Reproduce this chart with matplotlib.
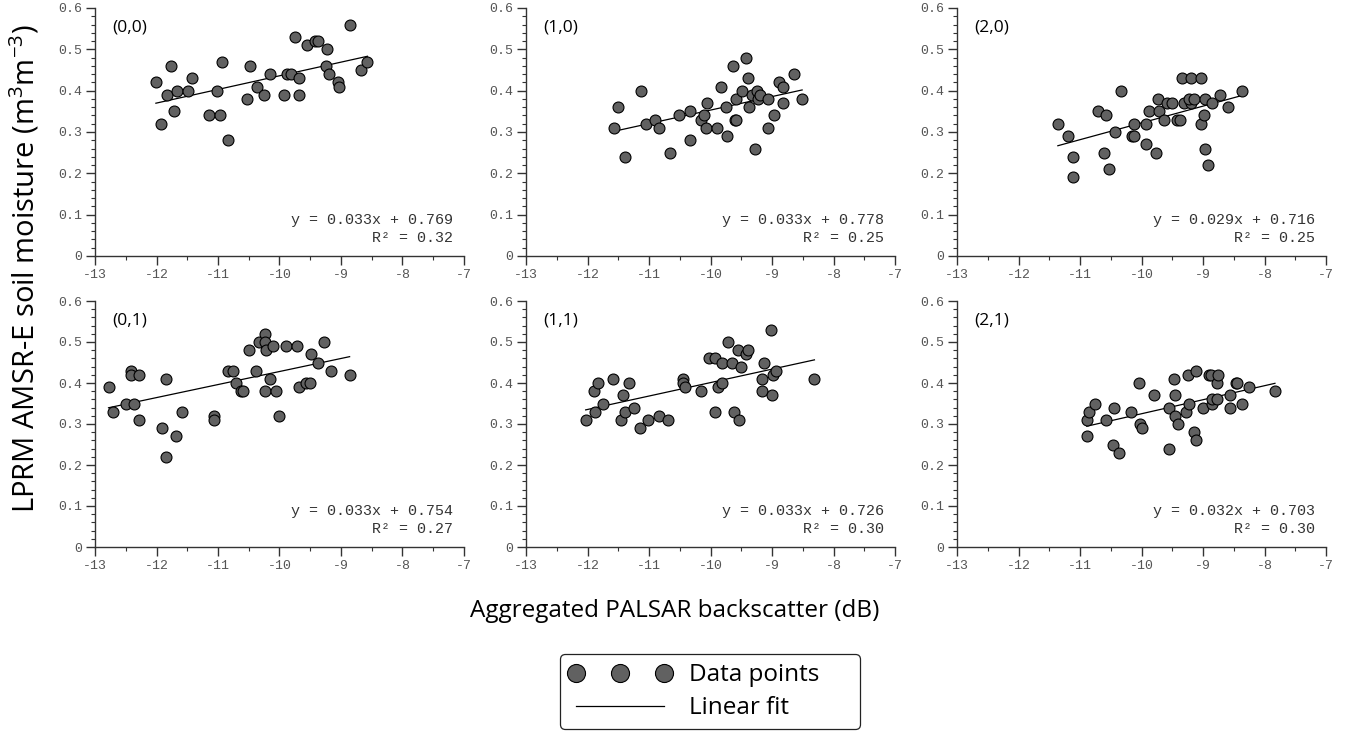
import matplotlib
matplotlib.use("Agg")
import matplotlib.pyplot as plt
from matplotlib.lines import Line2D
from matplotlib.legend_handler import HandlerLine2D
import numpy as np

# ---------------- data ----------------
x00 = [-12.01, -11.92, -11.83, -11.76, -11.72, -11.66, -11.49, -11.42, -11.14, -11.02, -10.97, -10.93,
       -10.83, -10.53, -10.48, -10.37, -10.25, -10.16, -9.92, -9.87, -9.81, -9.74, -9.68, -9.68, -9.56,
       -9.42, -9.38, -9.23, -9.25, -9.20, -9.05, -9.03, -8.86, -8.67, -8.57]
y00 = [0.42, 0.32, 0.39, 0.46, 0.35, 0.40, 0.40, 0.43, 0.34, 0.40, 0.34, 0.47,
       0.28, 0.38, 0.46, 0.41, 0.39, 0.44, 0.39, 0.44, 0.44, 0.53, 0.43, 0.39, 0.51,
       0.52, 0.52, 0.50, 0.46, 0.44, 0.42, 0.41, 0.56, 0.45, 0.47]

x10 = [-11.57, -11.51, -11.39, -11.13, -11.05, -10.91, -10.83, -10.66, -10.52, -10.33, -10.34, -10.16,
       -10.10, -10.06, -10.07, -9.89, -9.83, -9.74, -9.73, -9.63, -9.60, -9.58, -9.58, -9.49, -9.43,
       -9.39, -9.38, -9.33, -9.28, -9.25, -9.22, -9.19, -9.06, -9.07, -8.97, -8.89, -8.82, -8.82,
       -8.65, -8.51]
y10 = [0.31, 0.36, 0.24, 0.40, 0.32, 0.33, 0.31, 0.25, 0.34, 0.35, 0.28, 0.33,
       0.34, 0.37, 0.31, 0.31, 0.41, 0.36, 0.29, 0.46, 0.33, 0.33, 0.38, 0.40, 0.48,
       0.43, 0.36, 0.39, 0.26, 0.40, 0.38, 0.39, 0.38, 0.31, 0.34, 0.42, 0.41, 0.37,
       0.44, 0.38]

x20 = [-11.36, -11.19, -11.12, -11.11, -10.70, -10.57, -10.61, -10.53, -10.43, -10.33, -10.16, -10.13,
       -10.12, -9.92, -9.92, -9.88, -9.76, -9.73, -9.71, -9.64, -9.58, -9.51, -9.42, -9.37, -9.34,
       -9.31, -9.20, -9.20, -9.22, -9.15, -9.04, -9.04, -8.98, -8.97, -8.97, -8.92, -8.85, -8.72,
       -8.60, -8.37]
y20 = [0.32, 0.29, 0.24, 0.19, 0.35, 0.34, 0.25, 0.21, 0.30, 0.40, 0.29, 0.29,
       0.32, 0.32, 0.27, 0.35, 0.25, 0.38, 0.35, 0.33, 0.37, 0.37, 0.33, 0.33, 0.43,
       0.37, 0.43, 0.37, 0.38, 0.38, 0.43, 0.32, 0.34, 0.38, 0.26, 0.22, 0.37, 0.39,
       0.36, 0.40]

x01 = [-12.78, -12.70, -12.50, -12.41, -12.41, -12.36, -12.29, -12.29, -11.91, -11.84, -11.84, -11.68,
       -11.58, -11.07, -11.06, -10.83, -10.75, -10.71, -10.63, -10.59, -10.50, -10.39, -10.33, -10.23,
       -10.24, -10.22, -10.24, -10.15, -10.11, -10.05, -10.00, -9.89, -9.71, -9.68, -9.57, -9.51,
       -9.48, -9.38, -9.28, -9.16, -8.86]
y01 = [0.39, 0.33, 0.35, 0.43, 0.42, 0.35, 0.42, 0.31, 0.29, 0.41, 0.22, 0.27,
       0.33, 0.32, 0.31, 0.43, 0.43, 0.40, 0.38, 0.38, 0.48, 0.43, 0.50, 0.52,
       0.50, 0.48, 0.38, 0.41, 0.49, 0.38, 0.32, 0.49, 0.49, 0.39, 0.40, 0.40,
       0.47, 0.45, 0.50, 0.43, 0.42]

x11 = [-12.03, -11.90, -11.88, -11.83, -11.75, -11.58, -11.45, -11.42, -11.39, -11.33, -11.24, -11.14,
       -11.01, -10.84, -10.69, -10.45, -10.45, -10.42, -10.15, -10.03, -9.92, -9.92, -9.88, -9.81,
       -9.81, -9.72, -9.65, -9.61, -9.56, -9.53, -9.51, -9.43, -9.39, -9.17, -9.16, -9.13, -9.02,
       -9.00, -8.98, -8.93, -8.31]
y11 = [0.31, 0.38, 0.33, 0.40, 0.35, 0.41, 0.31, 0.37, 0.33, 0.40, 0.34, 0.29,
       0.31, 0.32, 0.31, 0.41, 0.40, 0.39, 0.38, 0.46, 0.46, 0.33, 0.39, 0.40,
       0.45, 0.50, 0.45, 0.33, 0.48, 0.31, 0.44, 0.47, 0.48, 0.41, 0.38, 0.45, 0.53,
       0.37, 0.42, 0.43, 0.41]

x21 = [-10.89, -10.88, -10.86, -10.75, -10.57, -10.47, -10.44, -10.36, -10.17, -10.04, -10.03, -10.00,
       -9.79, -9.56, -9.55, -9.47, -9.46, -9.45, -9.40, -9.27, -9.24, -9.22, -9.15, -9.11, -9.11,
       -9.00, -8.90, -8.87, -8.85, -8.85, -8.78, -8.77, -8.76, -8.56, -8.56, -8.46, -8.44, -8.37,
       -8.25, -7.83]
y21 = [0.27, 0.31, 0.33, 0.35, 0.31, 0.25, 0.34, 0.23, 0.33, 0.40, 0.30, 0.29,
       0.37, 0.34, 0.24, 0.41, 0.32, 0.37, 0.30, 0.33, 0.42, 0.35, 0.28, 0.43, 0.26,
       0.34, 0.42, 0.42, 0.35, 0.36, 0.36, 0.40, 0.42, 0.37, 0.34, 0.40, 0.40, 0.35,
       0.39, 0.38]

panel_labels = ["(0,0)", "(1,0)", "(2,0)", "(0,1)", "(1,1)", "(2,1)"]
# equations as printed on the chart
eq_slopes = ["0.033", "0.033", "0.029", "0.033", "0.033", "0.032"]
eq_intercepts = ["0.769", "0.778", "0.716", "0.754", "0.726", "0.703"]
r2_values = ["0.32", "0.25", "0.25", "0.27", "0.30", "0.30"]
# fitted lines as drawn on the chart
fit_slopes = [0.033, 0.0327, 0.0406, 0.0318, 0.0328, 0.0342]
fit_intercepts = [0.766, 0.680, 0.728, 0.746, 0.729, 0.667]
x_ticks = [-13, -12, -11, -10, -9, -8, -7]
y_ticks = [0, 0.1, 0.2, 0.3, 0.4, 0.5, 0.6]
y_tick_labels = ["0", "0.1", "0.2", "0.3", "0.4", "0.5", "0.6"]

xs = [x00, x10, x20, x01, x11, x21]
ys = [y00, y10, y20, y01, y11, y21]

# ---------------- style ----------------
plt.rcParams['font.family'] = ['Open Sans', 'DejaVu Sans']
plt.rcParams['mathtext.fontset'] = 'custom'
plt.rcParams['mathtext.rm'] = 'Open Sans'
plt.rcParams['mathtext.it'] = 'Open Sans'

W, H = 1353, 731
fig = plt.figure(figsize=(W / 100, H / 100), dpi=100)

lefts = [95, 526, 957]
tops = [(8, 256), (301, 547)]
axw = 369

mono = 'Liberation Mono'
marker_fc = '#616161'
axis_col = '#333333'

for i in range(6):
    col = i % 3
    row = i // 3
    t, b = tops[row]
    ax = fig.add_axes([lefts[col] / W, 1 - b / H, axw / W, (b - t) / H])
    x = np.array(xs[i])
    y = np.array(ys[i])
    ax.scatter(x, y, s=62, c=marker_fc, edgecolors='black', linewidths=0.8, zorder=3)
    xf = np.array([x.min(), x.max()])
    ax.plot(xf, fit_slopes[i] * xf + fit_intercepts[i], color='black', lw=0.9, zorder=2)
    ax.set_xlim(-13, -7)
    ax.set_ylim(0, 0.6)
    ax.set_xticks(x_ticks)
    ax.set_xticklabels([str(v) for v in x_ticks])
    ax.set_yticks(y_ticks)
    ax.set_yticklabels(y_tick_labels)
    ax.set_xticks(np.arange(-13, -6.9, 0.5), minor=True)
    ax.set_yticks(np.arange(0, 0.601, 0.02), minor=True)
    for s in ['top', 'right']:
        ax.spines[s].set_visible(False)
    for s in ['left', 'bottom']:
        ax.spines[s].set_color(axis_col)
        ax.spines[s].set_linewidth(1.0)
    ax.tick_params(which='major', direction='out', length=6.5, width=1, color=axis_col,
                   labelsize=9.5, labelcolor='#555555', pad=3)
    ax.tick_params(which='minor', direction='out', length=3, width=0.8, color=axis_col)
    for lab in ax.get_xticklabels() + ax.get_yticklabels():
        lab.set_fontfamily(mono)
    ax.text(0.046, 0.92, panel_labels[i], transform=ax.transAxes, fontsize=12.5,
            ha='left', va='center', color='black')
    ax.text(0.97, 0.145, f"y = {eq_slopes[i]}x + {eq_intercepts[i]}", transform=ax.transAxes,
            fontsize=10.8, family=mono, ha='right', va='center', color='#333333')
    ax.text(0.97, 0.073, f"R\u00b2 = {r2_values[i]}", transform=ax.transAxes,
            fontsize=10.8, family=mono, ha='right', va='center', color='#333333')

fig.text(25 / W, 1 - 269 / H, r"LPRM AMSR-E soil moisture (m$^{3}$m$^{-3}$)", rotation=90,
         ha='center', va='center', fontsize=21)
fig.text(675 / W, 1 - 611 / H, "Aggregated PALSAR backscatter (dB)", ha='center', va='center',
         fontsize=17.5)

h_pts = Line2D([], [], linestyle='none', marker='o', markersize=13, markerfacecolor=marker_fc,
               markeredgecolor='black', markeredgewidth=0.8)
h_line = Line2D([], [], color='black', lw=0.9)
leg = fig.legend([h_pts, h_line], ["Data points", "Linear fit"], loc='lower left',
                 bbox_to_anchor=(560 / W, 1 - 729 / H, 300 / W, 74 / H), mode='expand',
                 borderaxespad=0, fontsize=17.5, frameon=True,
                 fancybox=True, edgecolor='#222222', framealpha=1, handlelength=4.2,
                 numpoints=3, handletextpad=0.75, borderpad=0.36, labelspacing=0.38,
                 handler_map={h_pts: HandlerLine2D(numpoints=3)})
leg.get_frame().set_linewidth(0.9)

fig.savefig("out.png", dpi=100)
